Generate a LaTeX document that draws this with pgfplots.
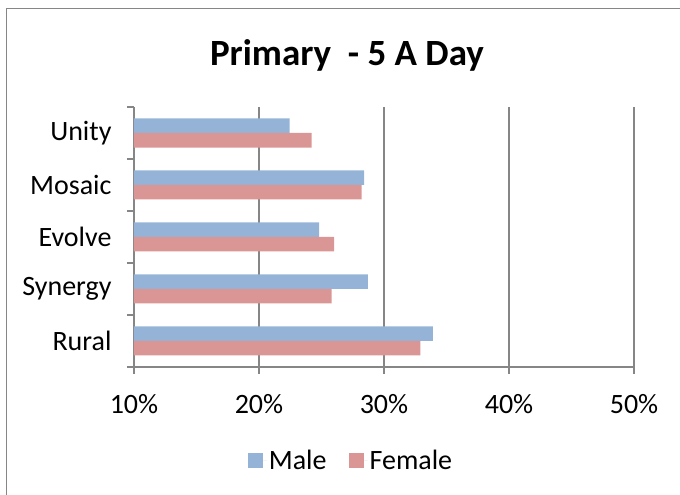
\documentclass[border=0pt]{standalone}
\usepackage{fontspec}
\setmainfont{Carlito}
\usepackage{pgfplots}
\pgfplotsset{compat=1.18}
\definecolor{malec}{HTML}{95B3D7}
\definecolor{femalec}{HTML}{D99694}
\definecolor{gridc}{HTML}{868686}
\begin{document}
\begin{tikzpicture}
% outer frame, right and bottom edges fall outside the page
\draw[gridc, line width=1.5pt] (6.5pt,-20pt) rectangle (700pt,486.5pt);
\node[font=\fontsize{37}{40}\selectfont\bfseries] at (347pt,440pt) {Primary\ \ - 5 A Day};
\begin{axis}[
    at={(134pt,128pt)}, anchor=south west,
    scale only axis,
    width=500pt, height=260pt,
    xbar, bar width=14.5pt,
    xmin=10, xmax=50,
    ymin=-0.5, ymax=4.5,
    xtick={10,20,30,40,50},
    xticklabels={10\%,20\%,30\%,40\%,50\%},
    ytick={-0.5,0.5,...,4.5},
    y tick label as interval,
    yticklabels={Rural,Synergy,Evolve,Mosaic,Unity},
    axis x line*=bottom, axis y line*=left,
    axis line style={gridc, line width=1.6pt, -},
    tick align=outside, major tick length=7pt,
    tick style={gridc, line width=1.6pt},
    xmajorgrids, grid style={gridc, line width=1.6pt},
    ticklabel style={font=\fontsize{28}{30}\selectfont},
    yticklabel style={xshift=-12pt},
    xticklabel style={yshift=-17pt},
    legend style={at={(0.434,-0.358)}, anchor=center, draw=none,
        legend columns=2, font=\fontsize{28}{30}\selectfont,
        /tikz/every even column/.append style={column sep=20pt}},
    legend image code/.code={\fill[#1] (0pt,-7.5pt) rectangle (15pt,7.5pt);
        \path (15pt,0pt) -- (19pt,0pt);},
]
\addplot[fill=malec, draw=none, bar shift=7.25pt] coordinates
  {(33.9,0) (28.7,1) (24.8,2) (28.4,3) (22.45,4)};
\addplot[fill=femalec, draw=none, bar shift=-7.25pt] coordinates
  {(32.9,0) (25.8,1) (26.0,2) (28.2,3) (24.2,4)};
\legend{Male, Female}
\end{axis}
\pgfresetboundingbox
\path (0,0) rectangle (680pt,495pt);
\end{tikzpicture}
\end{document}
